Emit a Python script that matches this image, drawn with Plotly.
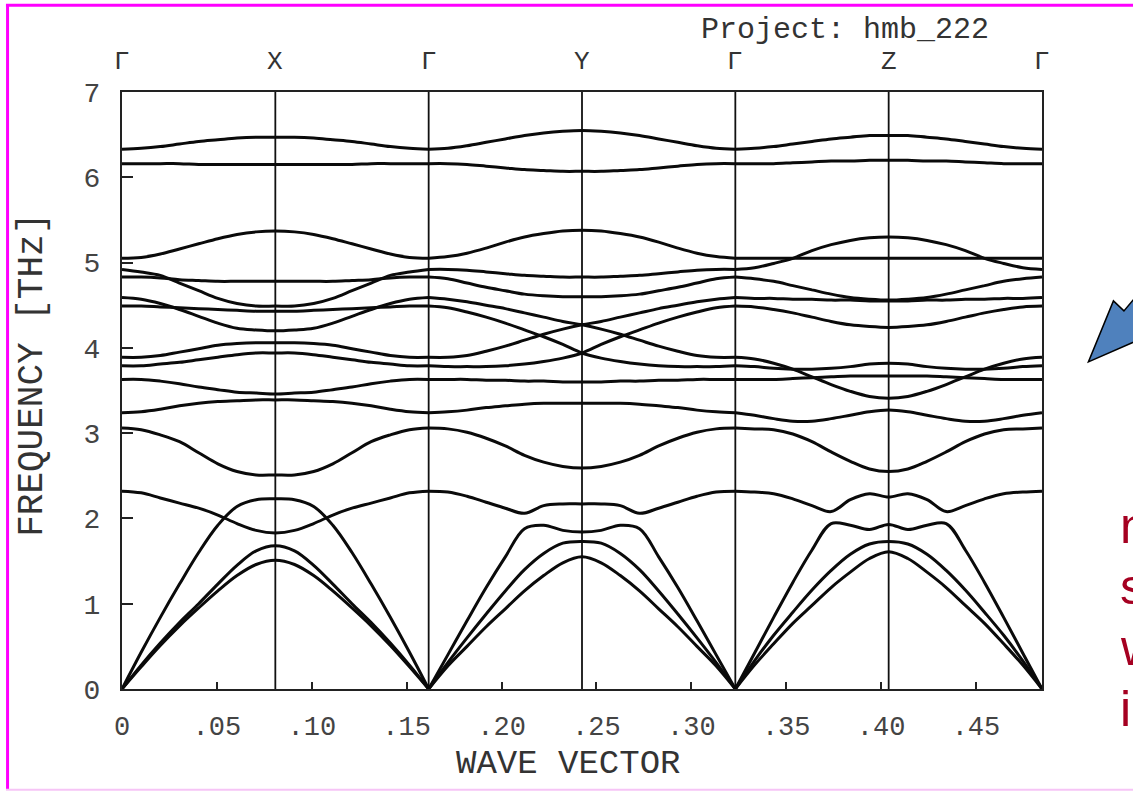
import plotly.graph_objects as go

# ---------------- data ----------------
q_nodes = [0.0, 0.0808, 0.1616, 0.2424, 0.3232, 0.4040, 0.4848]
node_labels = ["Γ", "X", "Γ", "Y", "Γ", "Z", "Γ"]
x_tickvals = [0, 0.05, 0.10, 0.15, 0.20, 0.25, 0.30, 0.35, 0.40, 0.45]
x_ticktext = ["0", ".05", ".10", ".15", ".20", ".25", ".30", ".35", ".40", ".45"]
y_tickvals = [0, 1, 2, 3, 4, 5, 6, 7]

# sample positions along each half path (fraction from Γ to the zone-boundary point)
u_half = [0.0, 0.125, 0.25, 0.375, 0.5, 0.625, 0.75, 0.875, 1.0]

# Γ -> X frequencies (THz); X -> Γ is the mirror image
gx_bands = [
    [6.33, 6.34, 6.36, 6.39, 6.42, 6.44, 6.46, 6.47, 6.47],
    [6.16, 6.16, 6.16, 6.16, 6.15, 6.15, 6.15, 6.15, 6.15],
    [5.05, 5.06, 5.10, 5.16, 5.22, 5.28, 5.33, 5.36, 5.37],
    [4.92, 4.89, 4.85, 4.76, 4.67, 4.58, 4.52, 4.49, 4.49],
    [4.83, 4.83, 4.82, 4.80, 4.79, 4.78, 4.78, 4.78, 4.78],
    [4.59, 4.57, 4.52, 4.45, 4.37, 4.29, 4.23, 4.21, 4.20],
    [4.49, 4.49, 4.48, 4.47, 4.46, 4.45, 4.44, 4.43, 4.43],
    [3.89, 3.89, 3.91, 3.95, 3.99, 4.03, 4.05, 4.06, 4.06],
    [3.79, 3.79, 3.81, 3.83, 3.86, 3.89, 3.92, 3.94, 3.94],
    [3.63, 3.63, 3.61, 3.58, 3.54, 3.51, 3.48, 3.47, 3.46],
    [3.24, 3.25, 3.28, 3.32, 3.35, 3.37, 3.38, 3.39, 3.39],
    [3.06, 3.04, 2.98, 2.90, 2.77, 2.64, 2.55, 2.51, 2.51],
    [2.32, 2.30, 2.24, 2.18, 2.12, 2.04, 1.94, 1.86, 1.83],
    [0.00, 0.43, 0.84, 1.23, 1.60, 1.92, 2.14, 2.22, 2.23],
    [0.00, 0.28, 0.54, 0.78, 1.00, 1.23, 1.45, 1.62, 1.68],
    [0.00, 0.26, 0.51, 0.74, 0.95, 1.15, 1.33, 1.46, 1.51],
]

# Γ -> Y frequencies (THz)
gy_bands = [
    [6.33, 6.34, 6.37, 6.41, 6.45, 6.49, 6.52, 6.54, 6.55],
    [6.16, 6.16, 6.15, 6.13, 6.11, 6.09, 6.08, 6.07, 6.07],
    [5.05, 5.07, 5.11, 5.17, 5.24, 5.30, 5.34, 5.37, 5.38],
    [4.92, 4.92, 4.91, 4.89, 4.87, 4.85, 4.84, 4.83, 4.83],
    [4.83, 4.81, 4.76, 4.71, 4.67, 4.63, 4.61, 4.60, 4.60],
    [3.63, 3.63, 3.63, 3.62, 3.62, 3.61, 3.61, 3.60, 3.60],
    [3.24, 3.25, 3.27, 3.30, 3.32, 3.34, 3.35, 3.35, 3.35],
    [3.06, 3.05, 3.01, 2.94, 2.85, 2.74, 2.66, 2.61, 2.59],
    [2.32, 2.31, 2.26, 2.19, 2.12, 2.06, 2.15, 2.17, 2.17],
    [0.00, 0.40, 0.80, 1.19, 1.55, 1.88, 1.92, 1.86, 1.84],
    [0.00, 0.31, 0.60, 0.88, 1.15, 1.40, 1.59, 1.71, 1.73],
    [0.00, 0.27, 0.50, 0.73, 0.94, 1.15, 1.33, 1.48, 1.55],
]
# Γ -> Y band pairs that cross at Y (first continues as the mirror of the second)
gy_crossing_upper = [4.59, 4.57, 4.54, 4.50, 4.46, 4.41, 4.36, 4.31, 4.27]
gy_crossing_upper_partner = [3.89, 3.89, 3.91, 3.96, 4.02, 4.09, 4.16, 4.22, 4.27]
gy_crossing_lower = [4.49, 4.47, 4.42, 4.36, 4.29, 4.21, 4.13, 4.04, 3.94]
gy_crossing_lower_partner = [3.79, 3.78, 3.78, 3.78, 3.79, 3.81, 3.84, 3.88, 3.94]

# Γ -> Z frequencies (THz)
gz_bands = [
    [6.33, 6.34, 6.36, 6.39, 6.42, 6.45, 6.47, 6.49, 6.49],
    [6.16, 6.16, 6.16, 6.17, 6.18, 6.19, 6.19, 6.20, 6.20],
    [5.05, 5.05, 5.05, 5.05, 5.05, 5.05, 5.05, 5.05, 5.05],
    [4.92, 4.94, 4.99, 5.05, 5.14, 5.21, 5.26, 5.29, 5.30],
    [4.83, 4.81, 4.78, 4.73, 4.68, 4.63, 4.59, 4.57, 4.56],
    [4.59, 4.58, 4.58, 4.57, 4.57, 4.56, 4.56, 4.55, 4.55],
    [4.49, 4.48, 4.45, 4.41, 4.36, 4.31, 4.27, 4.25, 4.24],
    [3.89, 3.87, 3.82, 3.75, 3.66, 3.57, 3.49, 3.43, 3.41],
    [3.79, 3.78, 3.76, 3.75, 3.75, 3.76, 3.78, 3.81, 3.82],
    [3.63, 3.63, 3.63, 3.64, 3.65, 3.66, 3.67, 3.67, 3.67],
    [3.24, 3.21, 3.17, 3.14, 3.14, 3.17, 3.21, 3.25, 3.27],
    [3.06, 3.05, 3.04, 2.99, 2.90, 2.78, 2.67, 2.58, 2.55],
    [2.32, 2.31, 2.29, 2.23, 2.15, 2.08, 2.22, 2.29, 2.25],
    [0.00, 0.42, 0.84, 1.25, 1.63, 1.94, 1.92, 1.87, 1.93],
    [0.00, 0.33, 0.63, 0.90, 1.16, 1.39, 1.58, 1.70, 1.73],
    [0.00, 0.28, 0.53, 0.77, 0.98, 1.19, 1.37, 1.53, 1.61],
]

project_text = "Project: hmb_222"
x_title = "WAVE VECTOR"
y_title = "FREQUENCY [THz]"
side_letters = ["n", "s", "w", "i"]

# ---------------- layout geometry (pixels) ----------------
W, H = 1133, 791
L, R, T, B = 122, 1041.6, 92, 689.3

def px_x(p):
    return (p - L) / (R - L)

def px_y(p):
    return (B - p) / (B - T)

MONO = "Liberation Mono, Courier New, monospace"

fig = go.Figure()

def add_curve(xs, ys):
    fig.add_trace(go.Scatter(x=xs, y=ys, mode="lines",
                             line=dict(color="#0a0a0a", width=3, shape="spline", smoothing=1.0),
                             hoverinfo="skip", showlegend=False))

segments = [
    (0, gx_bands, []),
    (2, gy_bands, [(gy_crossing_upper, gy_crossing_upper_partner),
                   (gy_crossing_lower, gy_crossing_lower_partner)]),
    (4, gz_bands, []),
]
for start, bands, pairs in segments:
    q0, qm, q1 = q_nodes[start], q_nodes[start + 1], q_nodes[start + 2]
    xl = [q0 + u * (qm - q0) for u in u_half]
    xr = [qm + (1 - u) * (q1 - qm) for u in reversed(u_half)][1:]
    xs = xl + xr
    for band in bands:
        add_curve(xs, band + band[::-1][1:])
    for a, b in pairs:
        add_curve(xs, a + b[::-1][1:])
        add_curve(xs, b + a[::-1][1:])

shapes = []
# vertical lines at inner high-symmetry points
for q in q_nodes[1:-1]:
    shapes.append(dict(type="line", xref="x", yref="paper", x0=q, x1=q, y0=0, y1=1,
                       line=dict(color="#111111", width=1.8), layer="below"))
# magenta frame around the image
shapes.append(dict(type="line", xref="paper", yref="paper", x0=px_x(6), x1=px_x(1140),
                   y0=px_y(5.3), y1=px_y(5.3), line=dict(color="#FF00FF", width=3)))
shapes.append(dict(type="line", xref="paper", yref="paper", x0=px_x(7.6), x1=px_x(7.6),
                   y0=px_y(4), y1=px_y(790), line=dict(color="#FF00FF", width=3)))
shapes.append(dict(type="line", xref="paper", yref="paper", x0=px_x(6), x1=px_x(1140),
                   y0=px_y(790), y1=px_y(790), line=dict(color="#F6C4F6", width=2)))
# blue block arrow (partly outside the picture)
arrow_pts = [(1088, 362), (1113, 301), (1123.5, 311), (1165, 262), (1215, 300), (1152, 334)]
path = "M " + " L ".join(f"{px_x(x):.5f},{px_y(y):.5f}" for x, y in arrow_pts) + " Z"
shapes.append(dict(type="path", xref="paper", yref="paper", path=path,
                   fillcolor="#4F81BD", line=dict(color="#000000", width=1.5)))

annotations = []
for q, lab in zip(q_nodes, node_labels):
    annotations.append(dict(x=q, xref="x", y=px_y(62), yref="paper", text=lab, showarrow=False,
                            xanchor="center", yanchor="middle",
                            font=dict(family=MONO, size=26, color="#333333")))
annotations.append(dict(x=px_x(845), y=px_y(30), xref="paper", yref="paper", text=project_text,
                        showarrow=False, xanchor="center", yanchor="middle",
                        font=dict(family=MONO, size=30, color="#333333")))
annotations.append(dict(x=px_x(568), y=px_y(764), xref="paper", yref="paper", text=x_title,
                        showarrow=False, xanchor="center", yanchor="middle",
                        font=dict(family=MONO, size=34, color="#333333")))
annotations.append(dict(x=px_x(33), y=px_y(375), xref="paper", yref="paper", text=y_title,
                        showarrow=False, xanchor="center", yanchor="middle", textangle=-90,
                        font=dict(family=MONO, size=36, color="#333333")))
for i, letter in enumerate(side_letters):
    annotations.append(dict(x=px_x(1118), y=px_y(526 + 61 * i), xref="paper", yref="paper",
                            text=letter, showarrow=False, xanchor="left", yanchor="middle",
                            font=dict(family="Arial, Liberation Sans, sans-serif", size=50,
                                      color="#A50021")))

fig.update_layout(
    width=W, height=H,
    margin=dict(l=L, r=W - R, t=T, b=H - B, pad=0),
    paper_bgcolor="white", plot_bgcolor="white",
    showlegend=False,
    shapes=shapes, annotations=annotations,
    xaxis=dict(range=[0, q_nodes[-1]], showgrid=False, zeroline=False,
               showline=True, linecolor="#222222", linewidth=2, mirror=True,
               ticks="inside", ticklen=7, tickwidth=1.5, tickcolor="#222222",
               tickvals=x_tickvals, ticktext=x_ticktext, ticklabelstandoff=12,
               tickfont=dict(family=MONO, size=27, color="#444444")),
    yaxis=dict(range=[0, 7], showgrid=False, zeroline=False,
               showline=True, linecolor="#222222", linewidth=2, mirror=True,
               ticks="inside", ticklen=11, tickwidth=1.5, tickcolor="#222222",
               tickvals=y_tickvals, ticktext=[str(v) for v in y_tickvals], ticklabelstandoff=14,
               tickfont=dict(family=MONO, size=28, color="#444444")),
)

fig.write_html("out.html")
